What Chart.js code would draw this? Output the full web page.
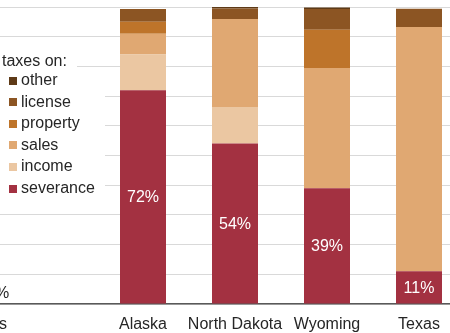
<!DOCTYPE html>
<html lang="en">
<head>
<meta charset="UTF-8">
<title>State tax revenue by source</title>
<style>
  html, body { margin: 0; padding: 0; background: #fff; overflow: hidden; }
  #frame { position: relative; width: 450px; height: 333px; overflow: hidden; }
  #holder { position: absolute; left: -87px; top: 0; width: 552px; height: 333px; }
</style>
</head>
<body>
<div id="frame">
  <div id="holder"><canvas id="taxChart"></canvas></div>
</div>

<script src="https://cdn.jsdelivr.net/npm/chart.js@4.4.7/dist/chart.umd.min.js"></script>
<script>
// categories (the blank one leaves a gap after the national bar)
const states = ['United States', '', 'Alaska', 'North Dakota', 'Wyoming', 'Texas'];

// share of tax revenue, percent
const severance = [1, null, 72, 54, 39, 11];
const income    = [56, null, 12, 12.3, 0, 0];
const sales     = [32, null, 7, 29.7, 40.5, 82.3];
const property  = [2, null, 4, 0, 12.8, 0];
const license   = [6, null, 4.3, 3.5, 7, 6.1];
const other     = [3, null, 0, 0.5, 0.5, 0];

const yTicks = [0, 10, 20, 30, 40, 50, 60, 70, 80, 90, 100];

const FONT = "'Liberation Sans', Arial, sans-serif";
const SHIFT = 87; // canvas is pushed left by this much

const series = [
  { label: 'severance', data: severance, color: '#a33141' },
  { label: 'income',    data: income,    color: '#ebc7a2' },
  { label: 'sales',     data: sales,     color: '#e0a872' },
  { label: 'property',  data: property,  color: '#be742a' },
  { label: 'license',   data: license,   color: '#8c5523' },
  { label: 'other',     data: other,     color: '#5e3a17' }
];

// percent labels on the severance segments
const valueLabels = {
  id: 'valueLabels',
  afterDatasetsDraw(chart) {
    const ctx = chart.ctx;
    const meta = chart.getDatasetMeta(0);
    ctx.save();
    ctx.font = '16px ' + FONT;
    ctx.textBaseline = 'middle';
    meta.data.forEach((bar, i) => {
      const v = severance[i];
      if (v == null) return;
      const txt = Math.round(v) + '%';
      const h = bar.base - bar.y;
      if (h >= 20) {
        ctx.fillStyle = '#ffffff';
        ctx.textAlign = 'center';
        ctx.fillText(txt, bar.x, (bar.y + bar.base) / 2 + 1);
      } else {
        ctx.fillStyle = '#262626';
        ctx.textAlign = 'left';
        ctx.fillText(txt, bar.x + bar.width / 2 + 4, bar.base - 10);
      }
    });
    ctx.restore();
  }
};

// legend drawn over the empty column, top entry first
const sideLegend = {
  id: 'sideLegend',
  afterDraw(chart) {
    const ctx = chart.ctx;
    const x0 = SHIFT;
    ctx.save();
    ctx.font = '16px ' + FONT;
    ctx.textBaseline = 'middle';
    ctx.textAlign = 'left';

    ctx.fillStyle = '#ffffff';
    ctx.fillRect(x0, 52, 77, 19);
    ctx.fillRect(x0, 70, 105, 128);

    ctx.fillStyle = '#262626';
    ctx.fillText('taxes on:', x0 + 2, 62);

    const items = chart.data.datasets.slice().reverse();
    items.forEach((ds, k) => {
      const y = 80.5 + k * 21.6;
      ctx.fillStyle = ds.backgroundColor;
      ctx.fillRect(x0 + 9, Math.round(y - 4), 8, 8);
      ctx.fillStyle = '#262626';
      ctx.fillText(ds.label, x0 + 21, y);
    });
    ctx.restore();
  }
};

new Chart(document.getElementById('taxChart'), {
  type: 'bar',
  data: {
    labels: states,
    datasets: series.map(s => ({
      label: s.label,
      data: s.data,
      backgroundColor: s.color,
      borderWidth: 0,
      categoryPercentage: 1,
      barPercentage: 0.5
    }))
  },
  options: {
    responsive: true,
    maintainAspectRatio: false,
    animation: false,
    layout: { padding: { top: 7, left: 0, right: 0, bottom: 0 } },
    plugins: {
      legend: { display: false },
      tooltip: { enabled: false }
    },
    scales: {
      x: {
        stacked: true,
        grid: { display: false, drawTicks: false },
        border: { display: true, color: '#595959', width: 1.5 },
        ticks: {
          color: '#262626',
          font: { family: FONT, size: 16 },
          padding: 11,
          autoSkip: false,
          maxRotation: 0,
          minRotation: 0
        },
        afterFit: scale => {
          scale.height = 29;
          scale.paddingLeft = 0;
          scale.paddingRight = 0;
        }
      },
      y: {
        stacked: true,
        min: 0,
        max: 100,
        afterBuildTicks: axis => { axis.ticks = yTicks.map(v => ({ value: v })); },
        grid: { color: '#d9d9d9', lineWidth: 1, drawTicks: false },
        border: { display: false },
        ticks: { display: false },
        afterFit: scale => { scale.width = 0; }
      }
    }
  },
  plugins: [valueLabels, sideLegend]
});
</script>
</body>
</html>
